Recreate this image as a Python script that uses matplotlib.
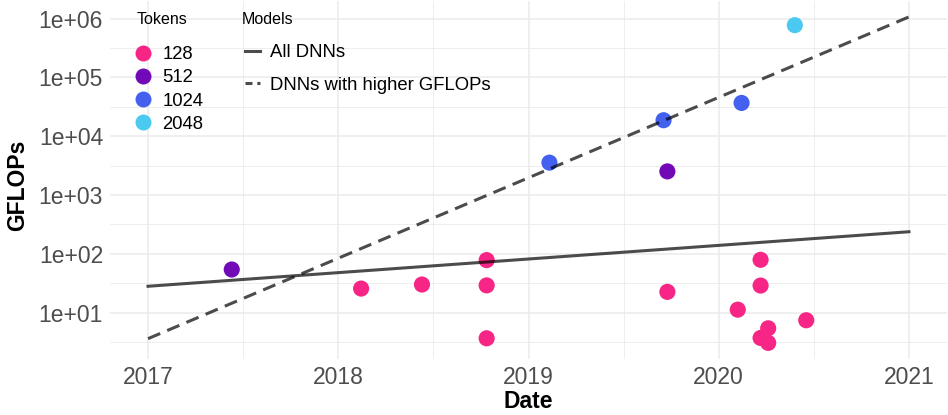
"""
plot.py — GFLOPs of transformer models over time, coloured by token count.
Writes out.png (948x415).
"""

import numpy as np
import matplotlib
matplotlib.use("Agg")
import matplotlib.pyplot as plt
from matplotlib.lines import Line2D
from matplotlib.ticker import FixedLocator, FuncFormatter

plt.rcParams["font.family"] = ["Liberation Sans", "DejaVu Sans"]
plt.rcParams["lines.scale_dashes"] = False

# ── data ─────────────────────────────────────────────────────────────────────

years = [2017.44, 2018.12, 2018.44, 2018.78, 2018.78, 2018.78,
         2019.11, 2019.73, 2019.71, 2020.12, 2020.40,
         2019.73, 2020.10, 2020.22, 2020.22, 2020.22, 2020.26, 2020.26, 2020.46]
gflops = [54, 25.6, 30, 78, 29, 3.65,
          3550, 2520, 18700, 36800, 774000,
          22.5, 11.2, 79, 28.8, 3.7, 5.4, 3.05, 7.4]
tokens = [512, 128, 128, 128, 128, 128,
          1024, 512, 1024, 1024, 2048,
          128, 128, 128, 128, 128, 128, 128, 128]

token_levels = [128, 512, 1024, 2048]
token_colors = {128: "#F72585", 512: "#7209B7", 1024: "#4361EE", 2048: "#4CC9F0"}

# fitted trend lines (end points)
fit_years = [2017, 2021]
fit_all = [28, 237]
fit_high = [3.6, 1.07e6]

# ── figure ───────────────────────────────────────────────────────────────────

W, H = 948, 415
fig = plt.figure(figsize=(W / 100, H / 100), dpi=100)
ax = fig.add_axes([110 / W, 1 - 359 / H, 837 / W, 358 / H])

for side in ax.spines.values():
    side.set_visible(False)

ax.set_yscale("log")
ax.set_xlim(2016.8, 2021.2)
ax.set_ylim(10 ** 0.21, 10 ** 6.30)

ax.xaxis.set_major_locator(FixedLocator([2017, 2018, 2019, 2020, 2021]))
ax.xaxis.set_minor_locator(FixedLocator([2016.5, 2017.5, 2018.5, 2019.5, 2020.5]))
ax.yaxis.set_major_locator(FixedLocator([10.0 ** k for k in range(1, 7)]))
ax.yaxis.set_minor_locator(FixedLocator([10.0 ** (k + 0.5) for k in range(0, 7)]))
ax.yaxis.set_major_formatter(FuncFormatter(lambda v, _: f"1e+{int(round(np.log10(v))):02d}"))
ax.xaxis.set_major_formatter(FuncFormatter(lambda v, _: f"{int(round(v))}"))
ax.yaxis.set_minor_formatter(FuncFormatter(lambda v, _: ""))

ax.grid(True, which="major", color="#ebebeb", linewidth=1.1)
ax.grid(True, which="minor", color="#ebebeb", linewidth=0.6)
ax.set_axisbelow(True)
ax.tick_params(which="both", length=0)
ax.tick_params(axis="both", labelsize=16.5, labelcolor="#4d4d4d")
ax.tick_params(axis="x", pad=5)
ax.tick_params(axis="y", pad=5)

cols = [token_colors[t] for t in tokens]
ax.scatter(years, gflops, s=135, c=cols, linewidths=0, zorder=2)

ax.plot(fit_years, fit_all, color="black", alpha=0.7, linewidth=2.2, zorder=3)
ax.plot(fit_years, fit_high, color="black", alpha=0.7, linewidth=2.2,
        dashes=(9.5, 5.5), zorder=3)

fig.text(18 / W, 1 - 185 / H, "GFLOPs", rotation=90, fontsize=16.5,
         fontweight="bold", ha="center", va="center")
fig.text(528 / W, 1 - 401 / H, "Date", fontsize=16.5,
         fontweight="bold", ha="center", va="center")

# ── legends ──────────────────────────────────────────────────────────────────

fig.text(137 / W, 1 - 19 / H, "Tokens", fontsize=11.5, ha="left", va="center")
fig.text(242 / W, 1 - 19 / H, "Models", fontsize=11.5, ha="left", va="center")

tok_handles = [Line2D([], [], marker="o", linestyle="none", markersize=11.5,
                      markerfacecolor=token_colors[t], markeredgewidth=0)
               for t in token_levels]
leg1 = ax.legend(tok_handles, [str(t) for t in token_levels],
                 loc="upper left", bbox_to_anchor=(134 / W, 1 - 46 / H),
                 bbox_transform=fig.transFigure, frameon=False, fontsize=13.3,
                 handletextpad=0.54, labelspacing=0.34, handlelength=1.0,
                 borderpad=0, borderaxespad=0)
ax.add_artist(leg1)

mod_handles = [Line2D([], [], color="black", alpha=0.7, linewidth=2.2),
               Line2D([], [], color="black", alpha=0.7, linewidth=2.2, dashes=(5, 3.5))]
leg2 = ax.legend(mod_handles, ["All DNNs", "DNNs with higher GFLOPs"],
                 loc="upper left", bbox_to_anchor=(245 / W, 1 - 44 / H),
                 bbox_transform=fig.transFigure, frameon=False, fontsize=13.3,
                 handletextpad=0.54, labelspacing=0.86, handlelength=0.81,
                 borderpad=0, borderaxespad=0)

fig.savefig("out.png", dpi=100)
